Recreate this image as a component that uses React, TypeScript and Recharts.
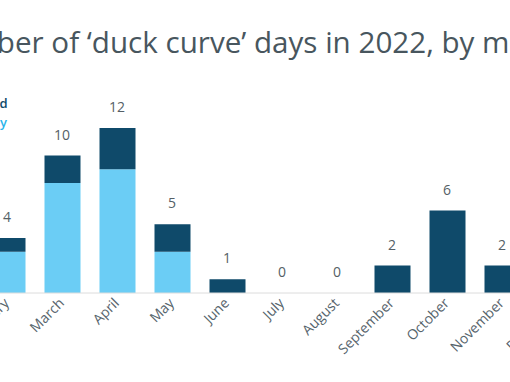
import { ComposedChart, Bar, Line, XAxis, YAxis, LabelList } from "recharts";

const MONTHS = [
  "January", "February", "March", "April", "May", "June",
  "July", "August", "September", "October", "November", "December",
];
// light series (weekday) and dark series (weekend), stacked
const WEEKDAY = [0, 3, 8, 9, 3, 0, 0, 0, 0, 0, 0, 0];
const WEEKEND = [1, 1, 2, 3, 2, 1, 0, 0, 2, 6, 2, 1];

const DARK = "#0f4a6a";
const LIGHT = "#6bcdf5";
const FONT = "'Open Sans', sans-serif";

const data = MONTHS.map((m, i) => ({
  month: m,
  weekday: WEEKDAY[i],
  weekend: WEEKEND[i],
  total: WEEKDAY[i] + WEEKEND[i],
}));

const MonthTick = ({ x, y, payload }: any) => {
  const ax = x + 3;
  const ay = y + 9;
  return (
    <text
      x={ax}
      y={ay}
      transform={`rotate(-45, ${ax}, ${ay})`}
      textAnchor="end"
      fontSize={14}
      fontFamily={FONT}
      fill="#56646c"
    >
      {payload.value}
    </text>
  );
};

const App = () => {
  return (
    <div
      style={{
        position: "fixed",
        left: 0,
        top: 0,
        width: 510,
        height: 382,
        overflow: "hidden",
        background: "#fff",
      }}
    >
      <div style={{ position: "absolute", left: -120, top: 0 }}>
        <ComposedChart
          width={760}
          height={382}
          data={data}
          margin={{ top: 128, right: 55.5, bottom: 0, left: 44.5 }}
          barSize={36}
        >
          <XAxis
            dataKey="month"
            height={89}
            interval={0}
            tickLine={false}
            tickSize={0}
            axisLine={{ stroke: "#dcdcdc" }}
            tick={<MonthTick />}
          />
          <YAxis hide domain={[0, 12]} />
          <Bar dataKey="weekday" stackId="a" fill={LIGHT} isAnimationActive={false} />
          <Bar dataKey="weekend" stackId="a" fill={DARK} isAnimationActive={false} />
          <Line
            dataKey="total"
            stroke="none"
            dot={false}
            activeDot={false}
            isAnimationActive={false}
          >
            <LabelList
              dataKey="total"
              position="top"
              offset={16}
              fill="#555f66"
              fontSize={14}
              fontFamily={FONT}
            />
          </Line>
        </ComposedChart>
      </div>
      <svg
        width={510}
        height={382}
        style={{ position: "absolute", left: 0, top: 0, pointerEvents: "none" }}
      >
        <text x={-71} y={53} fontSize={29.6} fontWeight={500} fontFamily={FONT} fill="#48565e">
          Number of ‘duck curve’ days in 2022, by month
        </text>
        <text x={7.5} y={108} textAnchor="end" fontSize={13} fontWeight={600} fontFamily={FONT} fill={DARK}>
          Weekend
        </text>
        <text x={7} y={127} textAnchor="end" fontSize={13} fontWeight={600} fontFamily={FONT} fill="#29b4ea">
          Weekday
        </text>
      </svg>
    </div>
  );
};

export default App;
